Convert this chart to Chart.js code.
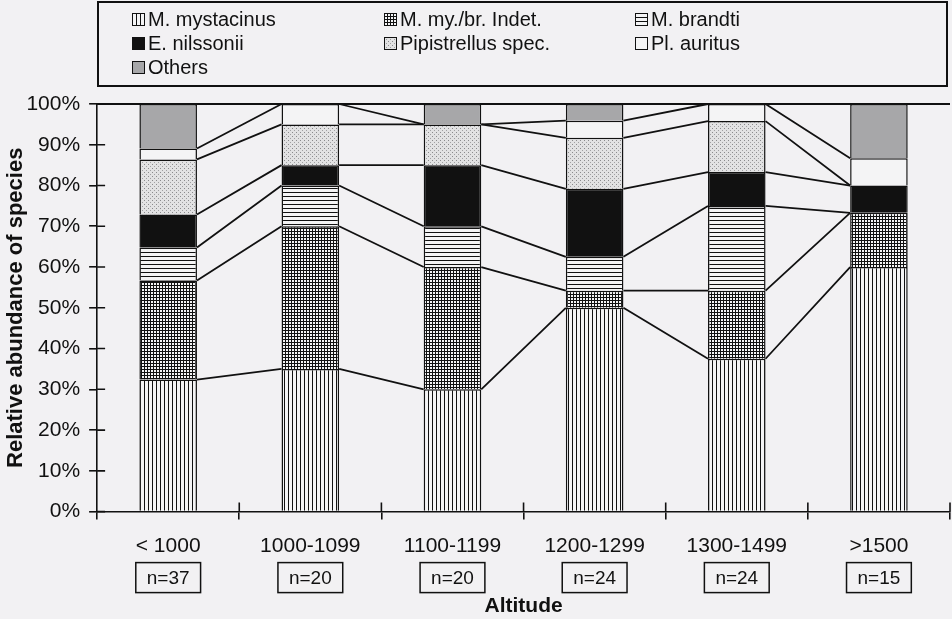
<!DOCTYPE html>
<html lang="en">
<head>
<meta charset="UTF-8">
<title>Relative abundance of species by altitude</title>
<script src="https://cdn.jsdelivr.net/npm/chart.js"></script>
<style>
  body {
    margin: 0;
    background: #f2f1f3;
    font-family: 'Liberation Sans', Arial, sans-serif;
  }
  .wrap {
    position: relative;
    width: 952px;
    height: 619px;
  }
  #legend {
    position: absolute;
    left: 97px;
    top: 1px;
    width: 851px;
    height: 86px;
    box-sizing: border-box;
    border: 2px solid #111;
    padding: 4px 0 0 33px;
    display: grid;
    grid-template-columns: 252px 251px 250px;
    grid-auto-rows: 24px;
    font-size: 20px;
    color: #111;
    z-index: 2;
  }
  #legend .item {
    display: flex;
    align-items: center;
    white-space: nowrap;
  }
  #legend canvas {
    width: 13px;
    height: 13px;
    margin-right: 3px;
  }
  #chart {
    position: absolute;
    left: 0;
    top: 0;
  }
</style>
</head>
<body>
<div class="wrap">
  <div id="legend"></div>
  <canvas id="chart" width="952" height="619"></canvas>
</div>

<script>
  // altitude classes and sample sizes
  const altitudes = ['< 1000', '1000-1099', '1100-1199', '1200-1299', '1300-1499', '>1500'];
  const sampleSizes = [37, 20, 20, 24, 24, 15];

  // share of each species per altitude class (%), bottom to top
  const mystacinus  = [32.4, 35, 30, 50,  37.5, 60];
  const myBrIndet   = [24.3, 35, 30, 4.2, 16.7, 13.3];
  const brandti     = [8.1,  10, 10, 8.3, 20.8, 0];
  const nilssonii   = [8.1,  5,  15, 16.7, 8.3, 6.7];
  const pipistrellus = [13.5, 10, 10, 12.5, 12.5, 0];
  const auritus     = [2.7,  5,  0,  4.2, 4.2, 6.7];
  const others      = [10.9, 0,  5,  4.1, 0,   13.3];

  const seriesNames = ['M. mystacinus', 'M. my./br. Indet.', 'M. brandti', 'E. nilssonii',
                       'Pipistrellus spec.', 'Pl. auritus', 'Others'];
  const seriesValues = [mystacinus, myBrIndet, brandti, nilssonii, pipistrellus, auritus, others];
  const seriesFills = ['vlines', 'grid', 'hlines', 'black', 'dots', 'white', 'gray'];

  Chart.defaults.font.family = "'Liberation Sans', Arial, sans-serif";
  Chart.defaults.color = '#111';

  const ink = '#111';
  const paper = '#f4f4f5';

  function makeFill(kind) {
    if (kind === 'black') return '#111';
    if (kind === 'white') return paper;
    if (kind === 'gray') return '#a7a7a9';
    const size = kind === 'grid' ? 3 : 4;
    const c = document.createElement('canvas');
    c.width = size; c.height = size;
    const g = c.getContext('2d');
    g.fillStyle = kind === 'dots' ? '#e2e2e3' : paper;
    g.fillRect(0, 0, size, size);
    g.fillStyle = ink;
    if (kind === 'vlines') g.fillRect(0, 0, 1, size);
    if (kind === 'hlines') g.fillRect(0, 0, size, 1);
    if (kind === 'grid') { g.fillRect(0, 0, 1, size); g.fillRect(0, 0, size, 1); }
    if (kind === 'dots') {
      g.fillStyle = '#8a8a8c'; g.fillRect(0, 0, 1, 1);
      g.fillStyle = '#a0a0a2'; g.fillRect(2, 2, 1, 1);
    }
    return g.createPattern(c, 'repeat');
  }

  const fills = seriesFills.map(makeFill);

  // html legend, three columns filled row by row
  const legendEl = document.getElementById('legend');
  seriesNames.forEach((name, i) => {
    const item = document.createElement('div');
    item.className = 'item';
    const sw = document.createElement('canvas');
    sw.width = 13; sw.height = 13;
    const sg = sw.getContext('2d');
    sg.fillStyle = fills[i];
    sg.fillRect(0, 0, 13, 13);
    sg.strokeStyle = ink;
    sg.lineWidth = 1;
    sg.strokeRect(0.5, 0.5, 12, 12);
    item.appendChild(sw);
    item.appendChild(document.createTextNode(name));
    legendEl.appendChild(item);
  });

  // lines joining the segment tops of neighbouring bars, frame and crossing ticks
  const connectors = {
    id: 'connectors',
    afterDatasetsDraw(chart) {
      const ctx = chart.ctx;
      const xs = chart.scales.x, ys = chart.scales.y;
      const area = chart.chartArea;
      ctx.save();
      ctx.strokeStyle = ink;
      ctx.lineWidth = 1.8;
      ctx.beginPath();
      ctx.moveTo(area.left, ys.getPixelForValue(100));
      ctx.lineTo(area.right, ys.getPixelForValue(100));
      ctx.stroke();
      for (let k = 0; k < chart.data.datasets.length - 1; k++) {
        const bars = chart.getDatasetMeta(k).data;
        ctx.beginPath();
        for (let i = 0; i < bars.length - 1; i++) {
          const a = bars[i], b = bars[i + 1];
          ctx.moveTo(a.x + a.width / 2, a.y);
          ctx.lineTo(b.x - b.width / 2, b.y);
        }
        ctx.stroke();
      }
      // inner half of the ticks
      ctx.lineWidth = 1.6;
      ctx.beginPath();
      ys.ticks.forEach(t => {
        const py = ys.getPixelForValue(t.value);
        ctx.moveTo(area.left, py);
        ctx.lineTo(area.left + 8, py);
      });
      for (let i = 0; i < altitudes.length; i++) {
        const bx = i < altitudes.length - 1
          ? (xs.getPixelForValue(i) + xs.getPixelForValue(i + 1)) / 2
          : area.right;
        ctx.moveTo(bx, area.bottom);
        ctx.lineTo(bx, area.bottom - 9);
      }
      ctx.stroke();
      ctx.restore();
    },
    afterDraw(chart) {
      // boxed sample sizes under the category labels
      const ctx = chart.ctx;
      const xs = chart.scales.x;
      const cy = chart.chartArea.bottom + 66;
      ctx.save();
      ctx.font = "19px 'Liberation Sans', Arial, sans-serif";
      ctx.textAlign = 'center';
      ctx.textBaseline = 'middle';
      ctx.fillStyle = ink;
      ctx.strokeStyle = ink;
      ctx.lineWidth = 1.5;
      sampleSizes.forEach((n, i) => {
        const cx = xs.getPixelForValue(i);
        const label = 'n=' + n;
        const w = ctx.measureText(label).width + 22;
        ctx.strokeRect(cx - w / 2, cy - 15, w, 30);
        ctx.fillText(label, cx, cy + 1);
      });
      ctx.restore();
    }
  };

  new Chart(document.getElementById('chart'), {
    type: 'bar',
    data: {
      labels: altitudes,
      datasets: seriesNames.map((name, i) => ({
        label: name,
        data: seriesValues[i],
        backgroundColor: fills[i],
        borderColor: ink,
        borderWidth: 1.5,
        categoryPercentage: 1,
        barPercentage: 0.405
      }))
    },
    options: {
      responsive: false,
      animation: false,
      layout: { padding: { top: 104, right: 2, left: 0, bottom: 0 } },
      plugins: {
        legend: { display: false },
        tooltip: { enabled: false }
      },
      scales: {
        x: {
          stacked: true,
          grid: { offset: true, drawOnChartArea: false, color: ink, lineWidth: 1.6, tickLength: 8 },
          border: { color: ink, width: 1.6 },
          ticks: { color: ink, font: { size: 21 }, padding: 14, maxRotation: 0, autoSkip: false },
          title: {
            display: true,
            text: 'Altitude',
            color: ink,
            font: { size: 21, weight: 'bold' },
            padding: { top: 21, bottom: 0 }
          }
        },
        y: {
          stacked: true,
          min: 0,
          max: 100,
          ticks: { stepSize: 10, callback: v => v + '%', color: ink, font: { size: 21 }, padding: 9 },
          grid: { drawOnChartArea: false, color: ink, lineWidth: 1.6, tickLength: 8 },
          border: { color: ink, width: 1.6 },
          title: {
            display: true,
            text: 'Relative abundance of species',
            color: ink,
            font: { size: 22, weight: 'bold' },
            padding: { top: 3, bottom: -12 }
          }
        }
      }
    },
    plugins: [connectors]
  });
</script>
</body>
</html>
